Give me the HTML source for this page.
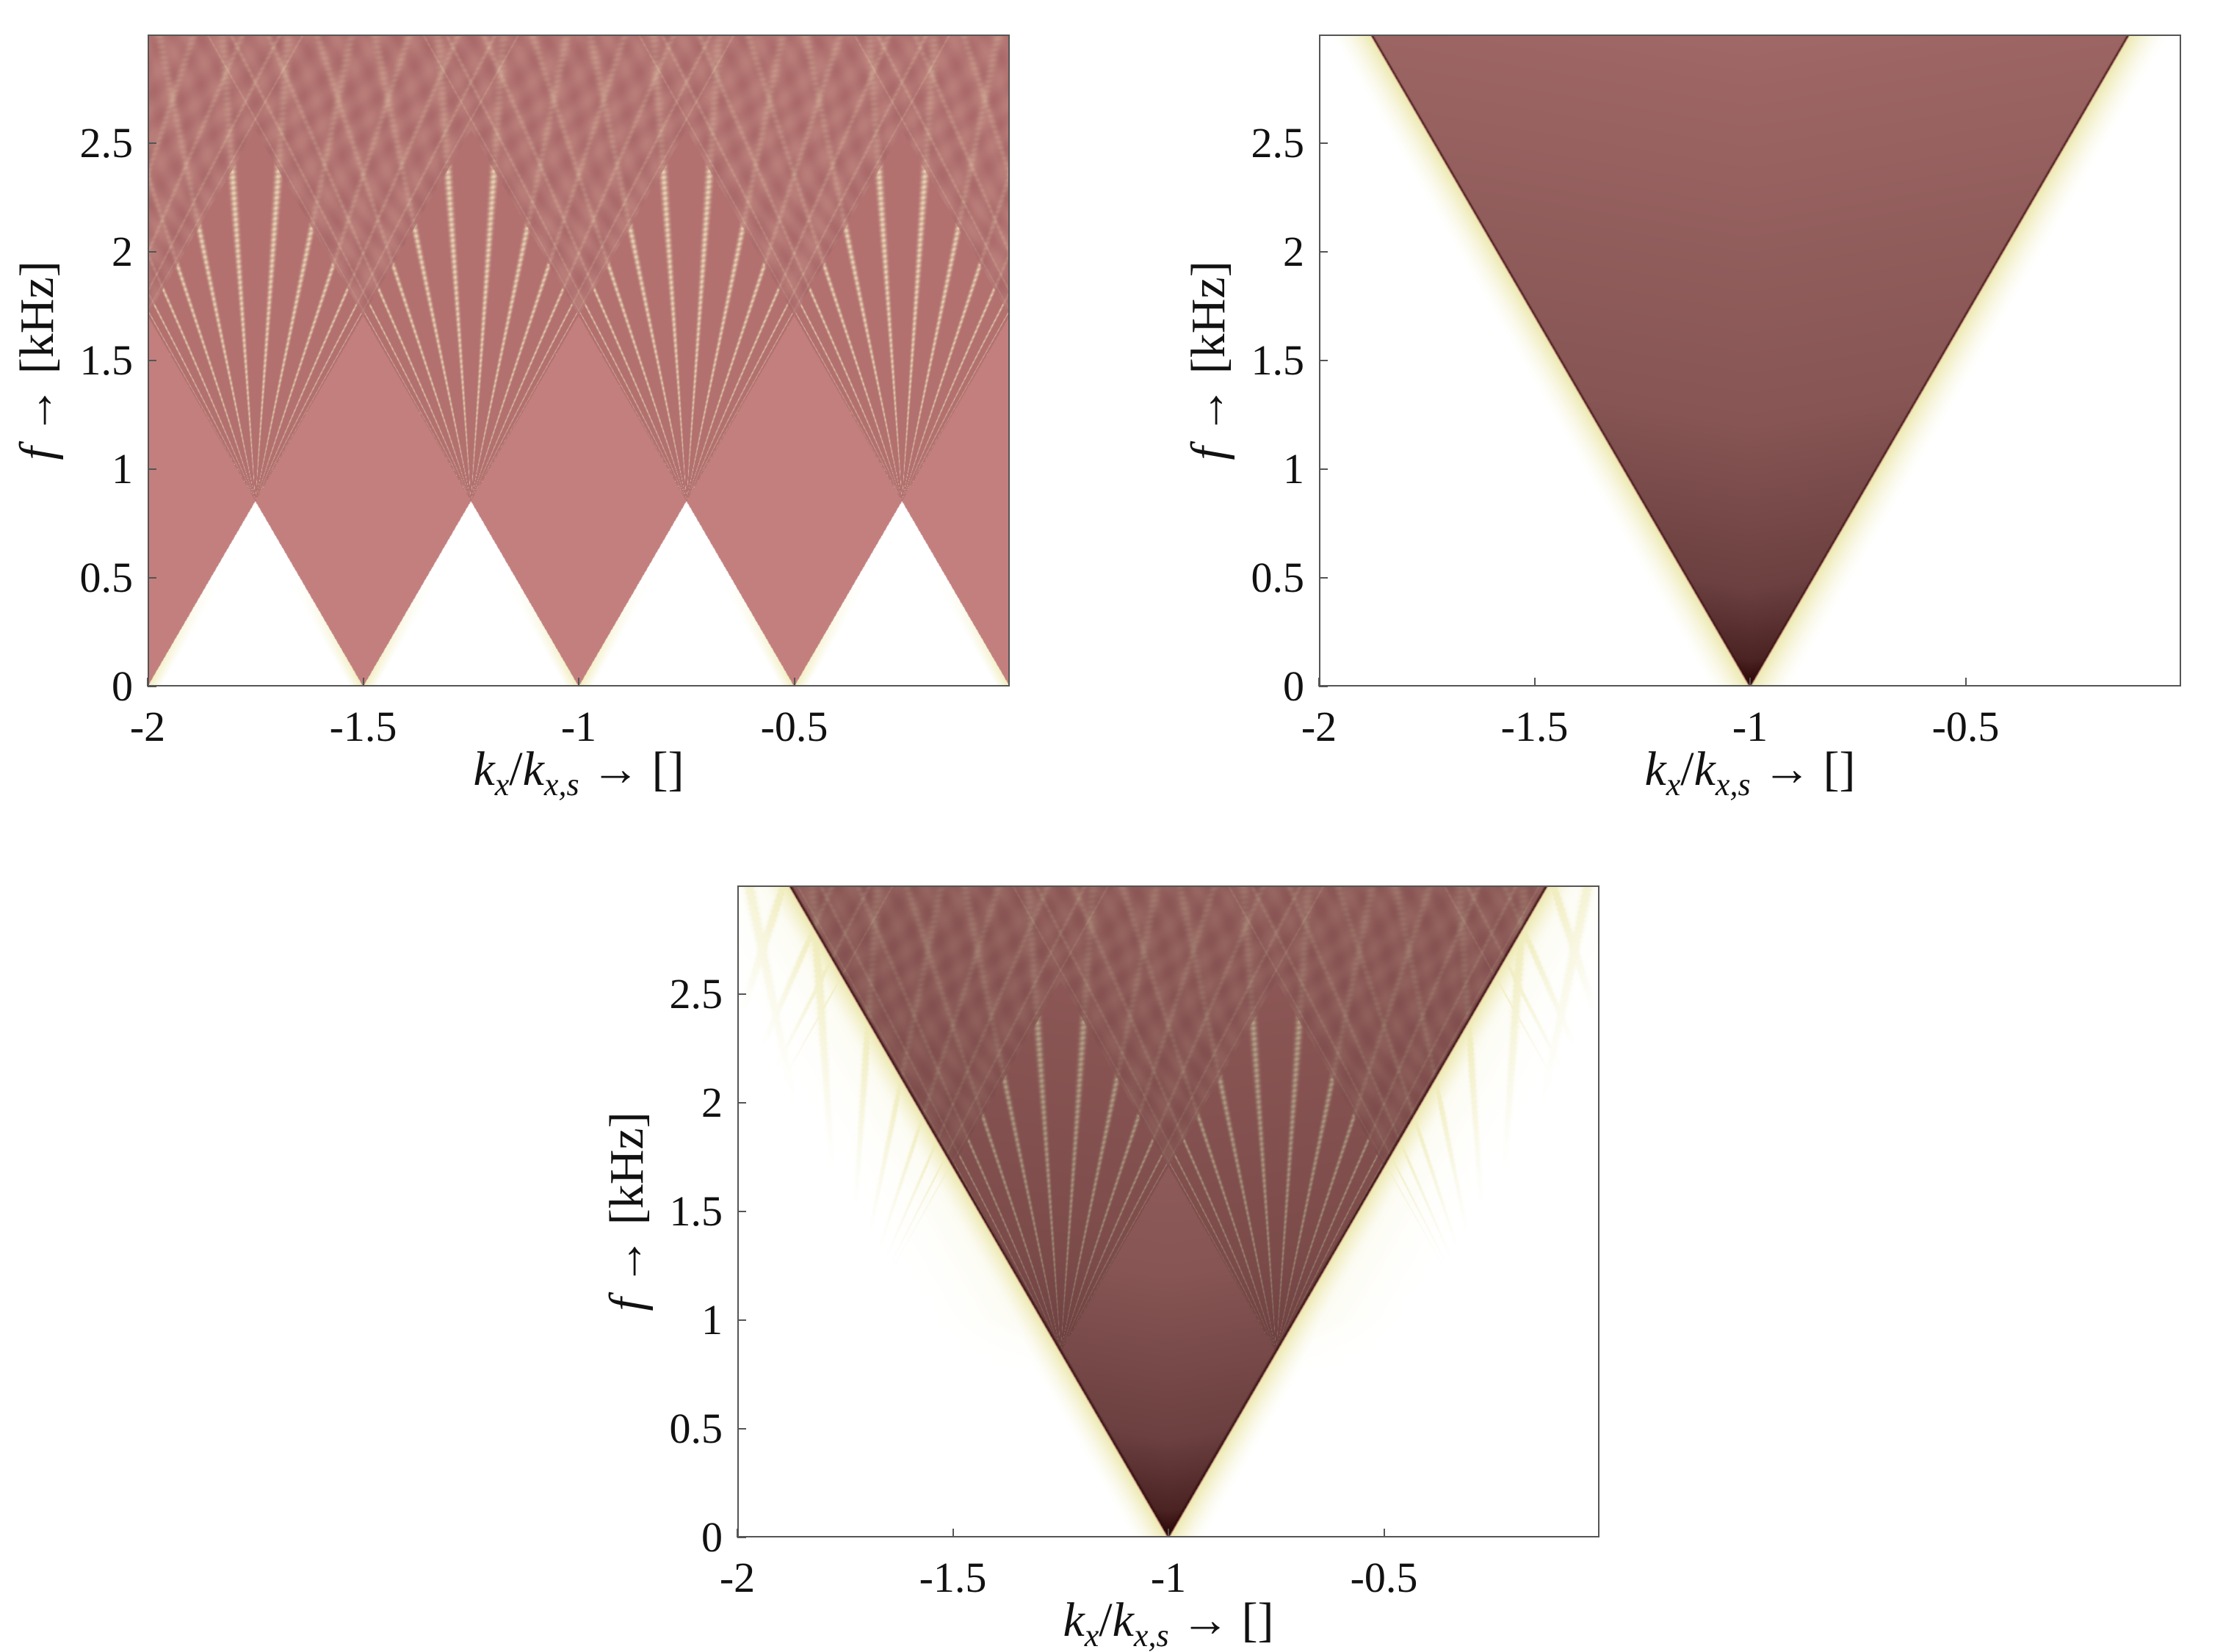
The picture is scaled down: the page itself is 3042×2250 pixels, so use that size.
<!DOCTYPE html>
<html><head><meta charset="utf-8">
<style>
html,body{margin:0;padding:0;background:#fff;}
#root{position:relative;width:3042px;height:2250px;background:#fff;overflow:hidden;font-family:"Liberation Serif",serif;color:#111;}
canvas{position:absolute;}
.frame{position:absolute;border:2px solid #555;box-sizing:border-box;pointer-events:none;}
.tl{position:absolute;font-size:58px;line-height:1;white-space:nowrap;}
.xt{transform:translateX(-50%);}
.yt{transform:translate(-100%,-50%);text-align:right;}
.title{position:absolute;font-size:66px;white-space:nowrap;line-height:1;}
.title i{font-style:italic;}
.title sub{font-size:44px;vertical-align:-14px;font-style:italic;}
.ytitle{transform:translate(-50%,-50%) rotate(-90deg);}
.xtitle{transform:translate(-50%,-50%);}
.tick{position:absolute;background:#555;}
</style></head>
<body>
<div id="root"></div>
<script>
const xTicks=[-2,-1.5,-1,-0.5];
const xTickLabels=["-2","-1.5","-1","-0.5"];
const yTicks=[0,0.5,1,1.5,2,2.5];
const yTickLabels=["0","0.5","1","1.5","2","2.5"];
const xDomain=[-2,0];
const yDomain=[0,3];
const apexF=[0.853];
const baseCenters=[-2,-1.5,-1,-0.5,0];
const apexCenters=[-2.25,-1.75,-1.25,-0.75,-0.25,0.25];
const vCenter=[-1];
const panels=[
 {name:"panel-periodic",left:201,top:47,w:1174,h:888,kind:1},
 {name:"panel-single",left:1796,top:47,w:1174,h:888,kind:2},
 {name:"panel-combined",left:1004,top:1206,w:1174,h:888,kind:3}
];
const root=document.getElementById('root');
const S=0.25/apexF[0];
function mix(a,b,t){return [a[0]+(b[0]-a[0])*t,a[1]+(b[1]-a[1])*t,a[2]+(b[2]-a[2])*t];}
const PINK=[194,127,126], FANBASE=[178,112,111], LINE=[245,238,196], OVER=[170,106,106], GLOW=[242,238,190], WHITE=[255,255,255];
function lineVal(x,f,xa){
  const fa=apexF[0]; if(f<=fa) return -1;
  const hw=S*(f-fa); const u=(x-xa)/hw; if(u<=-1||u>=1) return -1;
  const th=Math.acos(u); const v=Math.cos(th*26);
  const bead=0.8+0.2*Math.cos(f*260+th*30);
  return Math.pow(Math.max(0,v),9)*bead;
}
function col1(x,f){
  let d=1e9; for(const b of baseCenters){d=Math.min(d,Math.abs(x-b));}
  const hw=S*f;
  if(d>=hw){ const e=(d-hw); const g=Math.max(0,1-e/0.03)*Math.max(0,1-f/0.5); return mix(WHITE,GLOW,g); }
  let n=0,sum=0;
  for(const a of apexCenters){const v=lineVal(x,f,a); if(v>=0){n++;sum+=v;}}
  if(n===0) return PINK;
  if(n===1) return mix(FANBASE,LINE,Math.min(1,sum*0.8));
  const tex=0.5+0.5*Math.sin(x*90+Math.sin(f*6)*3)*Math.sin(f*30+x*20);
  return mix(mix(OVER,[205,150,140],tex*0.45),LINE,Math.min(1,sum*0.2));
}
function grad2(x,f){
  const t=Math.min(1,Math.max(0,f/3*0.9+0.1*(1-Math.abs(x-vCenter[0])/Math.max(0.01,S*f))*f/3));
  const stops=[[0,[40,2,2]],[0.04,[75,35,35]],[0.15,[108,64,64]],[0.4,[134,85,84]],[1,[160,104,102]]];
  let c=stops[stops.length-1][1];
  for(let i=0;i<stops.length-1;i++){ if(t<=stops[i+1][0]){ c=mix(stops[i][1],stops[i+1][1],(t-stops[i][0])/(stops[i+1][0]-stops[i][0])); break; } }
  return c;
}
function col2(x,f){
  const d=Math.abs(x-vCenter[0]); const hw=S*f;
  if(d<hw){ let c=grad2(x,f); const ed=(hw-d); if(ed<0.006){c=mix([55,15,15],c,ed/0.006);} return c; }
  const e=d-hw;
  if(e<0.004) return mix([150,70,70],GLOW,e/0.004);
  const g=Math.max(0,1-(e-0.004)/0.09); return mix(WHITE,[238,234,180],Math.pow(g,1.6));
}
function col3(x,f){
  const d=Math.abs(x-vCenter[0]); const hw=S*f;
  if(d<hw){
    const c1=col1(x,f); const c2=grad2(x,f);
    let c=[c2[0]*c1[0]/PINK[0],c2[1]*c1[1]/PINK[1],c2[2]*c1[2]/PINK[2]];
    c=c.map(v=>Math.min(255,v));
    const ed=hw-d; if(ed<0.008){c=mix([45,12,12],c,ed/0.008);}
    return c;
  }
  const e=d-hw;
  if(e<0.004) return mix([150,70,70],GLOW,e/0.004);
  let g=Math.pow(Math.max(0,1-(e-0.004)/0.08),1.6);
  if(f>0.7){ let s=0; for(const a of apexCenters){const v=lineVal(x,f,a); if(v>0)s+=v;} const fade=Math.max(0,1-e/0.28)*Math.min(1,(f-0.7)/0.3); g=Math.max(g,Math.min(1,s*2)*fade*0.7+0.25*fade*fade); }
  return mix(WHITE,[238,234,180],Math.min(1,g));
}
function addEl(tag,cls,name,style,html){
  const el=document.createElement(tag); if(cls) el.className=cls;
  
  
  Object.assign(el.style,style); if(html!==undefined) el.innerHTML=html; root.appendChild(el); return el;
}
for(const p of panels){
  const cv=document.createElement('canvas'); cv.width=p.w; cv.height=p.h;
  cv.style.left=p.left+'px'; cv.style.top=p.top+'px';
  
  
  root.appendChild(cv);
  const ctx=cv.getContext('2d'); const img=ctx.createImageData(p.w,p.h); const D=img.data;
  const fn=p.kind===1?col1:(p.kind===2?col2:col3);
  for(let j=0;j<p.h;j++){
    const f=yDomain[1]-(j+0.5)/p.h*(yDomain[1]-yDomain[0]);
    for(let i=0;i<p.w;i++){
      const x=xDomain[0]+(i+0.5)/p.w*(xDomain[1]-xDomain[0]);
      const c=fn(x,f); const k=(j*p.w+i)*4;
      D[k]=c[0];D[k+1]=c[1];D[k+2]=c[2];D[k+3]=255;
    }
  }
  ctx.putImageData(img,0,0);
  addEl('div','frame',p.name+'-axes-box',{left:p.left+'px',top:p.top+'px',width:p.w+'px',height:p.h+'px'});
  const xs=v=>p.left+(v-xDomain[0])/(xDomain[1]-xDomain[0])*p.w;
  const ys=v=>p.top+p.h-(v-yDomain[0])/(yDomain[1]-yDomain[0])*p.h;
  xTicks.forEach((t,i)=>{
    addEl('div','tick',p.name+'-x-tick',{left:(xs(t)-1)+'px',top:(p.top+p.h-12)+'px',width:'2px',height:'12px'});
    addEl('div','tl xt',p.name+'-x-tick-label',{left:xs(t)+'px',top:(p.top+p.h+26)+'px'},xTickLabels[i]);
  });
  yTicks.forEach((t,i)=>{
    addEl('div','tick',p.name+'-y-tick',{left:p.left+'px',top:(ys(t)-1)+'px',width:'12px',height:'2px'});
    addEl('div','tl yt',p.name+'-y-tick-label',{left:(p.left-20)+'px',top:ys(t)+'px'},yTickLabels[i]);
  });
  addEl('div','title xtitle',p.name+'-x-axis-title',{left:(p.left+p.w/2)+'px',top:(p.top+p.h+118)+'px'},'<i>k</i><sub>x</sub>/<i>k</i><sub>x,s</sub> &rarr; []');
  addEl('div','title ytitle',p.name+'-y-axis-title',{left:(p.left-150)+'px',top:(p.top+p.h/2)+'px'},'<i>f</i> &rarr; [kHz]');
}
</script>
</body></html>
